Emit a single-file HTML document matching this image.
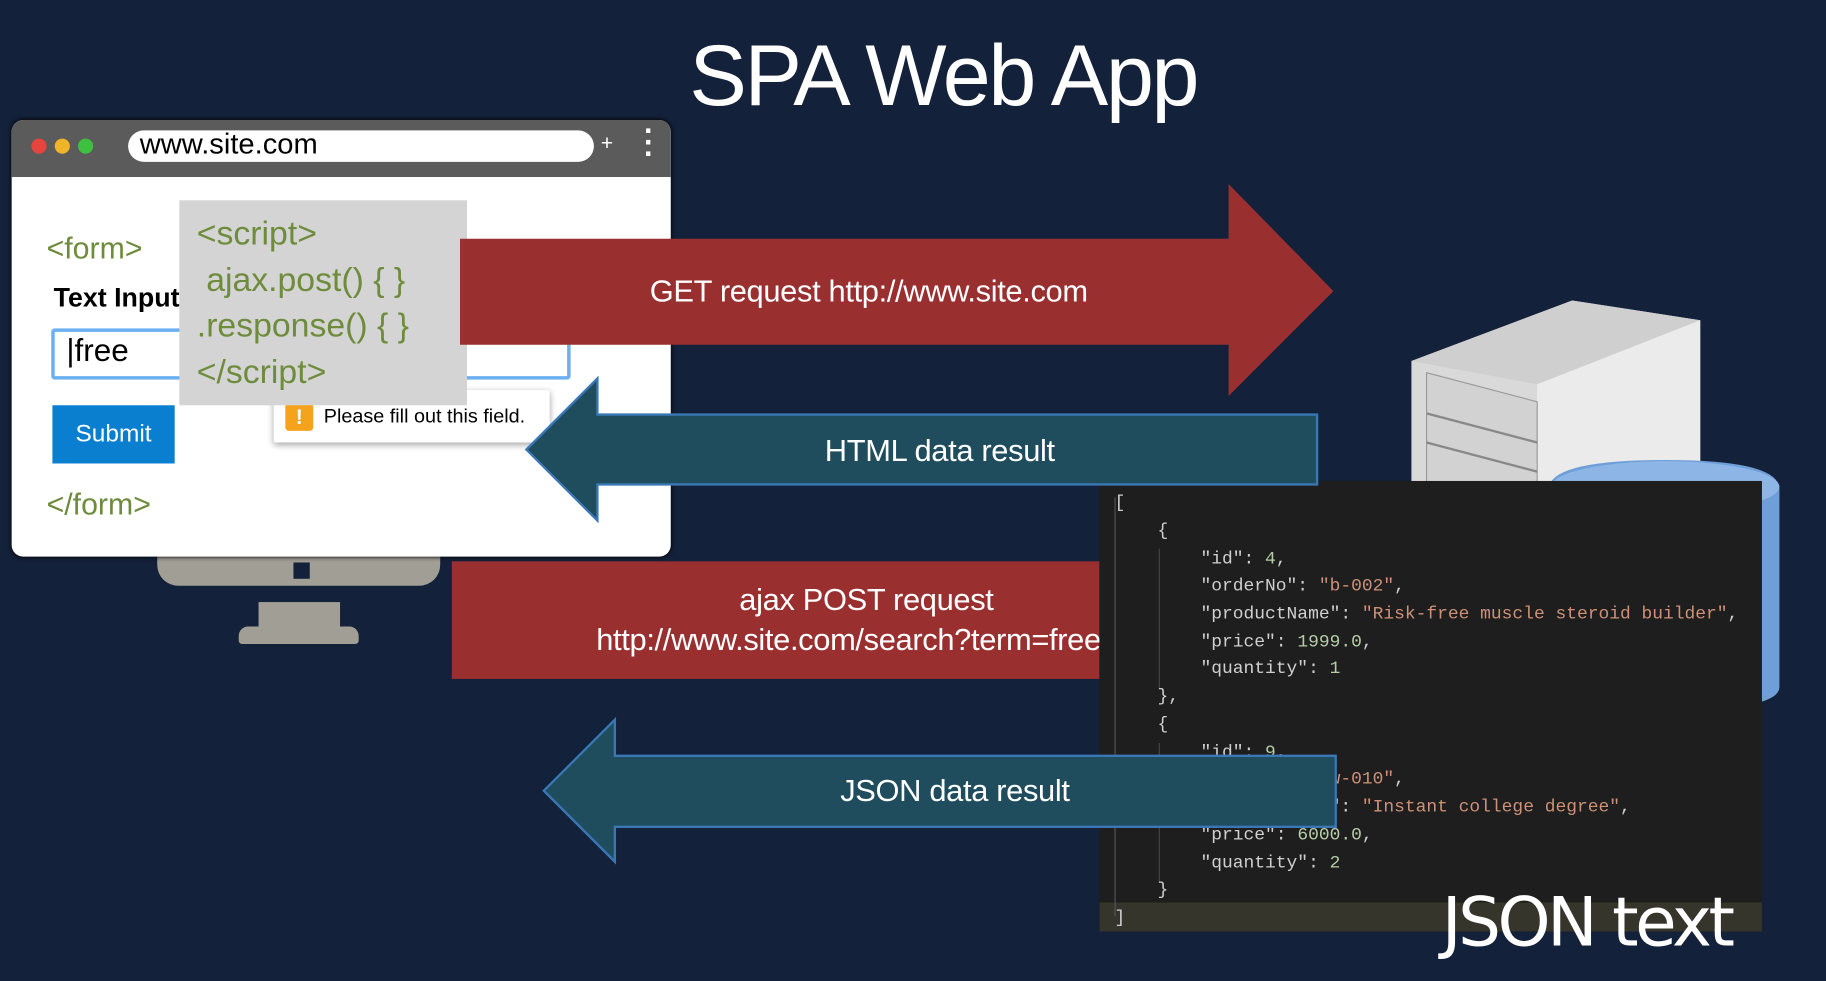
<!DOCTYPE html>
<html><head><meta charset="utf-8"><style>
html,body{margin:0;padding:0;width:1826px;height:980px;overflow:hidden;background:#14213a}
#s{position:absolute;left:0;top:0;width:1568px;height:842px;transform:scale(1.16454);transform-origin:0 0;font-family:"Liberation Sans",sans-serif}
.a{position:absolute}
.g{color:#6e8c3c;font-size:25px;font-family:"Liberation Sans",sans-serif}
.c{position:absolute;left:0;white-space:pre;font-family:"Liberation Mono",monospace;font-size:15.4px;color:#cfcfcf}
.st{color:#ce9178}.nu{color:#b5cea8}
.w{color:#fff;font-size:26.5px;position:absolute;text-align:center;letter-spacing:-0.3px}
</style></head><body><div id="s">
<div class="a" style="left:0;top:22px;width:1620px;text-align:center;color:#fff;font-size:74px;letter-spacing:-2px">SPA Web App</div>

<div class="a" style="left:135px;top:470px;width:243px;height:33px;background:#a19f95;border-radius:0 0 18px 18px"></div>
<div class="a" style="left:252px;top:483px;width:14px;height:14px;background:#14213a"></div>
<div class="a" style="left:222px;top:517px;width:70px;height:28px;background:#a19f95"></div>
<div class="a" style="left:205px;top:538px;width:103px;height:15px;background:#a19f95;border-radius:8px 8px 3px 3px"></div>

<div class="a" style="left:10px;top:103px;width:566px;height:375px;background:#fff;border-radius:10px;overflow:hidden;box-shadow:0 0 4px #000">
 <div class="a" style="left:0;top:0;width:566px;height:49px;background:#5b5b5b"></div>
 <div class="a" style="left:17px;top:16px;width:13px;height:13px;border-radius:50%;background:#e5453c"></div>
 <div class="a" style="left:37px;top:16px;width:13px;height:13px;border-radius:50%;background:#f0b429"></div>
 <div class="a" style="left:57px;top:16px;width:13px;height:13px;border-radius:50%;background:#3fbf3f"></div>
 <div class="a" style="left:100px;top:9px;width:400px;height:27px;background:#fff;border-radius:14px"></div>
 <div class="a" style="left:110px;top:7px;font-size:25px;color:#000">www.site.com</div>
 <div class="a" style="left:506px;top:10px;color:#fff;font-size:18px">+</div>
 <div class="a" style="left:543px;top:4px;color:#fff;font-size:26px;font-weight:bold;line-height:10px">·<br>·<br>·</div>
</div>
<div class="a g" style="left:40px;top:198px;font-size:26px">&lt;form&gt;</div>
<div class="a" style="left:46px;top:242px;font-size:23px;font-weight:bold;color:#000">Text Input</div>
<div class="a" style="left:44px;top:282px;width:440px;height:38px;border:3px solid #6cb0f2;border-radius:3px;background:#fff"></div>
<div class="a" style="left:57px;top:286px;font-size:27px;color:#000">|free</div>
<div class="a" style="left:45px;top:348px;width:105px;height:50px;background:#0b7fcf;color:#fff;font-size:21px;text-align:center;line-height:50px">Submit</div>
<div class="a g" style="left:40px;top:418px;font-size:26px">&lt;/form&gt;</div>
<div class="a" style="left:235px;top:335px;width:237px;height:45px;background:#fff;box-shadow:0 2px 6px rgba(0,0,0,.35);border-radius:2px"></div>
<div class="a" style="left:245px;top:346px;width:24px;height:24px;background:#f5a31c;border-radius:3px;color:#fff;font-weight:bold;text-align:center;line-height:24px;font-size:18px">!</div>
<div class="a" style="left:278px;top:348px;font-size:17px;color:#000">Please fill out this field.</div>
<div class="a" style="left:154px;top:172px;width:247px;height:176px;background:#d4d4d4"></div>
<div class="a g" style="left:169px;top:182px;font-size:29px;line-height:39.5px">&lt;script&gt;<br>&nbsp;ajax.post() { }<br>.response() { }<br>&lt;/script&gt;</div>

<svg class="a" style="left:0;top:0" width="1568" height="842">
 <polygon points="1212,310 1350,258 1460,275 1460,420 1212,420" fill="#d9d9d9"/>
 <polygon points="1212,310 1350,258 1460,275 1320,330" fill="#cfcfcf"/>
 <polygon points="1320,330 1460,275 1460,420 1320,420" fill="#ebebeb"/>
 <polygon points="1225,320 1320,345 1320,420 1225,420" fill="#d2d2d2" stroke="#999"/>
 <line x1="1225" y1="355" x2="1320" y2="380" stroke="#888" stroke-width="2"/>
 <line x1="1225" y1="380" x2="1320" y2="405" stroke="#888" stroke-width="2"/>
 <path d="M1330,420 Q1330,395 1430,395 Q1528,395 1528,420 L1528,590 Q1528,610 1430,610 Q1330,610 1330,590Z" fill="#6f9fd8"/>
 <ellipse cx="1430" cy="418" rx="98" ry="22" fill="#8db6e6"/>
</svg>

<div class="a" style="left:944px;top:413px;width:569px;height:387px;background:#1e1e1e;overflow:hidden">
 <div class="a" style="left:0;top:362px;width:569px;height:25px;background:#35352c"></div>
 <div class="a" style="left:13px;top:14px;width:1px;height:360px;background:#555"></div>
 <div class="a" style="left:51px;top:58px;width:1px;height:120px;background:#444"></div>
 <div class="a" style="left:51px;top:225px;width:1px;height:120px;background:#444"></div>
 <div style="position:absolute;left:13px;top:10px">
 <div class="c" style="top:0">[</div>
 <div class="c" style="top:24px">    {</div>
 <div class="c" style="top:48px">        "id": <span class="nu">4</span>,</div>
 <div class="c" style="top:71px">        "orderNo": <span class="st">"b-002"</span>,</div>
 <div class="c" style="top:95px">        "productName": <span class="st">"Risk-free muscle steroid builder"</span>,</div>
 <div class="c" style="top:119px">        "price": <span class="nu">1999.0</span>,</div>
 <div class="c" style="top:142px">        "quantity": <span class="nu">1</span></div>
 <div class="c" style="top:166px">    },</div>
 <div class="c" style="top:190px">    {</div>
 <div class="c" style="top:214px">        "id": <span class="nu">9</span>,</div>
 <div class="c" style="top:237px">        "orderNo": <span class="st">"w-010"</span>,</div>
 <div class="c" style="top:261px">        "productName": <span class="st">"Instant college degree"</span>,</div>
 <div class="c" style="top:285px">        "price": <span class="nu">6000.0</span>,</div>
 <div class="c" style="top:309px">        "quantity": <span class="nu">2</span></div>
 <div class="c" style="top:332px">    }</div>
 <div class="c" style="top:356px">]</div>
 </div>
</div>
<div class="a" style="left:1238px;top:758px;color:#fff;font-size:58px;font-family:'DejaVu Sans','Liberation Sans',sans-serif;letter-spacing:-3px">JSON text</div>

<svg class="a" style="left:0;top:0" width="1568" height="842">
 <polygon points="395,205 1055,205 1055,158 1145,250 1055,340 1055,296 395,296" fill="#9a2f30"/>
 <polygon points="1131,356 513,356 513,325 452,386 513,447 513,416 1131,416" fill="#1f4d5d" stroke="#3a77b5" stroke-width="2"/>
 <rect x="388" y="482" width="556" height="101" fill="#9a2f30"/>
 <polygon points="1147,649 528,649 528,618 467,679 528,740 528,710 1147,710" fill="#1f4d5d" stroke="#3a77b5" stroke-width="2"/>
</svg>
<div class="w" style="left:396px;top:235px;width:700px">GET request http://www.site.com</div>
<div class="w" style="left:507px;top:372px;width:600px">HTML data result</div>
<div class="a" style="left:388px;top:482px;width:556px;height:101px;overflow:hidden">
 <div class="w" style="left:0;top:18px;width:712px">ajax POST request</div>
 <div class="w" style="left:124px;top:52px;text-align:left;white-space:nowrap">http://www.site.com/search?term=free</div>
</div>
<div class="w" style="left:520px;top:664px;width:600px">JSON data result</div>
</div></body></html>
